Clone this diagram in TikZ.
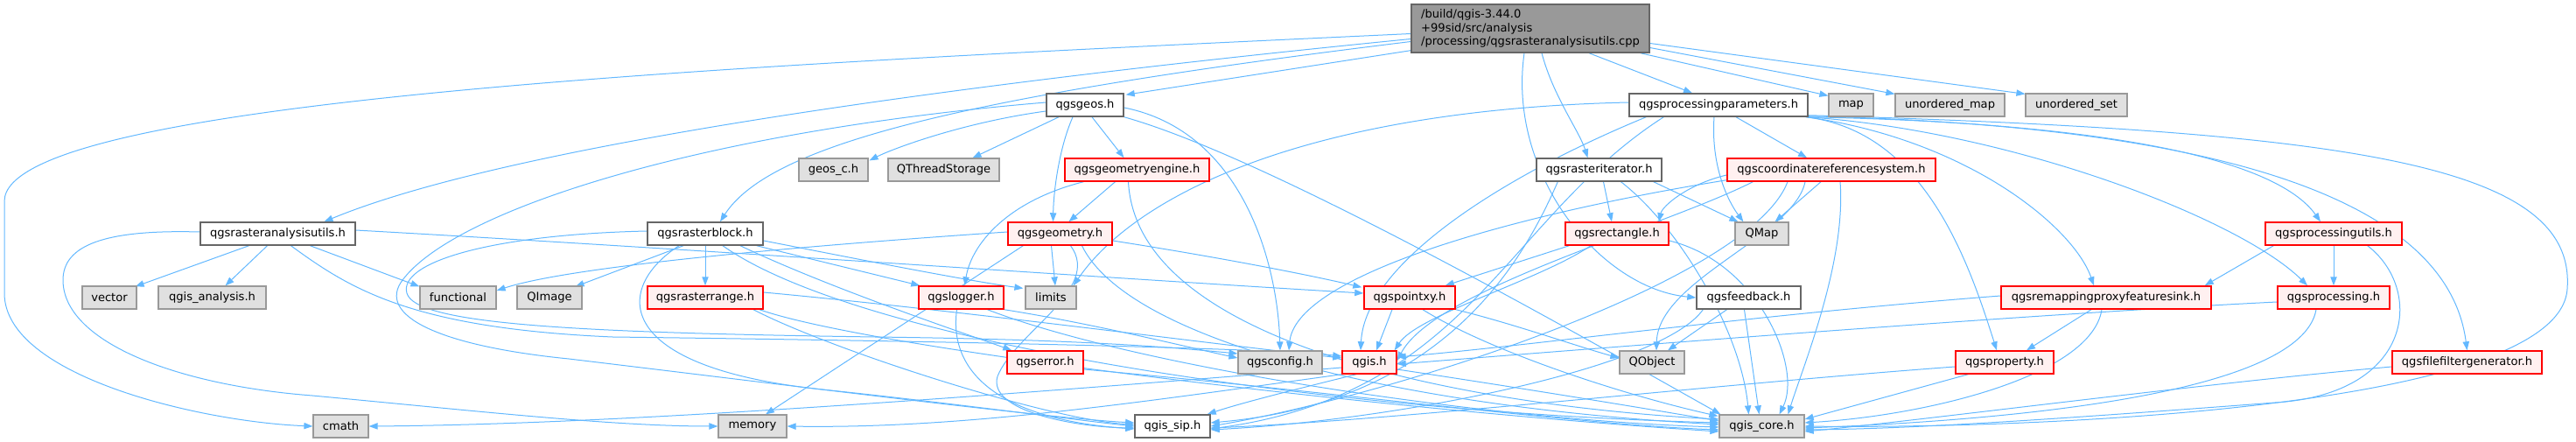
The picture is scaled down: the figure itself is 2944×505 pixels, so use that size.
\documentclass[tikz,border=0pt]{standalone}
\usepackage{fontspec}
\setmainfont{DejaVu Sans}
\usetikzlibrary{arrows.meta,calc,backgrounds}
\definecolor{edgec}{HTML}{63B8FF}
\definecolor{graybg}{HTML}{E0E0E0}
\definecolor{grayfr}{HTML}{999999}
\definecolor{darkfr}{HTML}{666666}
\definecolor{redbg}{HTML}{FFF0F0}
\definecolor{redfr}{HTML}{FF0000}
\definecolor{mainbg}{HTML}{999999}
\tikzset{
  basebox/.style={rectangle, minimum height=19.5pt, inner sep=0pt, font=\fontsize{9.8}{11.6}\selectfont},
  bw/.style={minimum width=#1*0.75pt},
  wbox/.style={basebox, draw=darkfr, fill=white, line width=1.1pt},
  gbox/.style={basebox, draw=grayfr, fill=graybg, line width=0.9pt},
  rbox/.style={basebox, draw=redfr, fill=redbg, line width=1.1pt},
  mbox/.style={basebox, draw=darkfr, fill=mainbg, line width=1pt, align=left},
  lnk/.style={draw=edgec, line width=0.75pt, -{Triangle[length=7.5pt,width=5.5pt]}}
}
\begin{document}
\begin{tikzpicture}[x=0.75pt,y=-0.75pt]
\useasboundingbox (0,0) rectangle (2944,505);
% nodes
\node[mbox, bw=272, minimum height=41.25pt] (main) at (1749,32.5) {/build/qgis-3.44.0\\+99sid/src/analysis\\/processing/qgsrasteranalysisutils.cpp};
\node[wbox, bw=88] (geos) at (1240,120) {qgsgeos.h};
\node[wbox, bw=204] (ppar) at (1964,120) {qgsprocessingparameters.h};
\node[gbox, bw=51] (map) at (2115.5,120) {map};
\node[gbox, bw=125] (umap) at (2228.5,120) {unordered\_map};
\node[gbox, bw=116] (uset) at (2373,120) {unordered\_set};
\node[gbox, bw=79] (geosc) at (952.5,194) {geos\_c.h};
\node[gbox, bw=127] (qts) at (1078.5,194) {QThreadStorage};
\node[rbox, bw=165] (geng) at (1299.5,194) {qgsgeometryengine.h};
\node[wbox, bw=143] (rit) at (1827.5,194) {qgsrasteriterator.h};
\node[rbox, bw=238] (crs) at (2093,194) {qgscoordinatereferencesystem.h};
\node[wbox, bw=177] (ras) at (317.5,267) {qgsrasteranalysisutils.h};
\node[wbox, bw=132] (blk) at (806,267) {qgsrasterblock.h};
\node[rbox, bw=119] (geom) at (1211.5,267) {qgsgeometry.h};
\node[rbox, bw=118] (rect) at (1848,267) {qgsrectangle.h};
\node[gbox, bw=61] (qmap) at (2013.5,267) {QMap};
\node[rbox, bw=156] (putil) at (2667,267) {qgsprocessingutils.h};
\node[gbox, bw=62] (vec) at (125,340) {vector};
\node[gbox, bw=123] (qan) at (242.5,340) {qgis\_analysis.h};
\node[gbox, bw=87] (func) at (523.5,340) {functional};
\node[gbox, bw=74] (qimg) at (628,340) {QImage};
\node[rbox, bw=132] (rrange) at (806,340) {qgsrasterrange.h};
\node[rbox, bw=97] (log) at (1098.5,340) {qgslogger.h};
\node[gbox, bw=58] (lim) at (1201,340) {limits};
\node[rbox, bw=104] (pxy) at (1611,340) {qgspointxy.h};
\node[wbox, bw=119] (fb) at (1998.5,340) {qgsfeedback.h};
\node[rbox, bw=240] (remap) at (2407,340) {qgsremappingproxyfeaturesink.h};
\node[rbox, bw=128] (proc) at (2667,340) {qgsprocessing.h};
\node[rbox, bw=87] (err) at (1194.5,414) {qgserror.h};
\node[gbox, bw=96] (cfg) at (1463,414) {qgsconfig.h};
\node[rbox, bw=62] (qgis) at (1565,414) {qgis.h};
\node[gbox, bw=74] (qobj) at (1888,414) {QObject};
\node[rbox, bw=112] (prop) at (2291,414) {qgsproperty.h};
\node[rbox, bw=171] (ffg) at (2819.5,414) {qgsfilefiltergenerator.h};
\node[gbox, bw=63] (cmath) at (389.5,487) {cmath};
\node[gbox, bw=78] (mem) at (860,487) {memory};
\node[wbox, bw=86] (sip) at (1340,487) {qgis\_sip.h};
\node[gbox, bw=97] (core) at (2013.5,487) {qgis\_core.h};
\begin{scope}[on background layer]
% main
\draw[lnk] ($(main.west)+(0,6)$) .. controls (900,72) and (5,110) .. (5,230) -- (5,335) .. controls (5,430) and (230,482) .. (cmath.west);
\draw[lnk] ($(main.west)+(0,12)$) .. controls (1000,105) and (560,175) .. ($(ras.north)+(53,0)$);
\draw[lnk] ($(main.west)+(0,15)$) .. controls (1100,110) and (880,165) .. ($(blk.north)+(17,0)$);
\draw[lnk] ($(main.south west)+(0,-3)$) -- ($(geos.north east)+(2,2)$);
\draw[lnk] ($(main.south)+(67,0)$) -- ($(ppar.north)+(-30,0)$);
\draw[lnk] ($(main.south)+(13,0)$) .. controls (1775,110) and (1805,150) .. ($(rit.north)+(-13,0)$);
\draw[lnk] ($(main.south)+(-7,0)$) .. controls (1722,200) and (1830,330) .. (fb.west);
\draw[lnk] ($(main.south east)+(-11,0)$) -- ($(map.north west)+(0,3)$);
\draw[lnk] ($(main.east)+(0,22)$) -- ($(umap.north west)+(0,1)$);
\draw[lnk] ($(main.east)+(0,17)$) -- ($(uset.north west)+(0,1)$);
% ras
\draw[lnk] ($(ras.south)+(-33,0)$) -- ($(vec.north east)+(-2,1)$);
\draw[lnk] ($(ras.south)+(-12,0)$) -- ($(qan.north)+(15,0)$);
\draw[lnk] ($(ras.south)+(37,0)$) -- ($(func.north west)+(0,1)$);
\draw[lnk] ($(ras.west)+(0,-2)$) .. controls (120,262) and (72,280) .. (72,320) .. controls (72,390) and (200,440) .. (357,452) .. controls (550,470) and (700,487) .. (mem.west);
\draw[lnk] ($(ras.south)+(15,0)$) .. controls (400,330) and (470,375) .. (700,385) .. controls (1100,390) and (1450,398) .. ($(qgis.west)+(0,-7)$);
\draw[lnk] ($(ras.east)+(0,-4)$) .. controls (800,285) and (1300,320) .. ($(pxy.west)+(0,-5)$);
% blk
\draw[lnk] ($(blk.south)+(-25,0)$) -- ($(qimg.north east)+(-8,1)$);
\draw[lnk] (blk) -- (rrange);
\draw[lnk] ($(blk.west)+(0,-3)$) .. controls (560,268) and (455,300) .. (465,335) .. controls (475,370) and (650,380) .. (1000,385) .. controls (1250,388) and (1350,398) .. ($(cfg.west)+(0,-10)$);
\draw[lnk] ($(blk.south)+(-30,0)$) .. controls (700,330) and (700,420) .. (940,445) .. controls (1100,462) and (1230,480) .. (sip.west);
\draw[lnk] ($(blk.east)+(0,8)$) .. controls (950,290) and (1100,320) .. ($(lim.north west)+(-2,3)$);
\draw[lnk] ($(blk.south east)+(-8,0)$) -- ($(log.north west)+(2,0)$);
\draw[lnk] ($(blk.south)+(40,0)$) .. controls (950,330) and (1100,380) .. ($(err.north west)+(6,0)$);
\draw[lnk] ($(blk.south)+(20,0)$) .. controls (980,390) and (1500,470) .. ($(core.west)+(0,-4)$);
% geos
\draw[lnk] ($(geos.west)+(0,7)$) .. controls (1100,140) and (1020,170) .. ($(geosc.north east)+(1,3)$);
\draw[lnk] ($(geos.south)+(-30,0)$) -- ($(qts.north)+(33,0)$);
\draw[lnk] ($(geos.south)+(8,0)$) -- ($(geng.north)+(-15,0)$);
\draw[lnk] ($(geos.south)+(-14,0)$) .. controls (1210,170) and (1204,220) .. ($(geom.north)+(-8,0)$);
\draw[lnk] ($(geos.east)+(0,3)$) .. controls (1420,150) and (1460,300) .. (cfg.north);
\draw[lnk] (geos.south east) .. controls (1450,180) and (1800,380) .. ($(core.north west)+(2,0)$);
\draw[lnk] ($(geos.west)+(0,-3)$) .. controls (800,150) and (520,240) .. (460,320) .. controls (430,360) and (500,395) .. (650,410) .. controls (900,440) and (1200,478) .. ($(sip.west)+(0,-4)$);
% geng
\draw[lnk] ($(geng.south west)+(22,0)$) .. controls (1150,230) and (1110,280) .. ($(log.north)+(4,0)$);
\draw[lnk] ($(geng.south)+(-25,0)$) -- ($(geom.north)+(10,0)$);
\draw[lnk] ($(geng.south)+(-10,0)$) .. controls (1300,400) and (1700,465) .. ($(core.west)+(0,-8)$);
% geom
\draw[lnk] ($(geom.west)+(0,-2)$) .. controls (900,282) and (650,305) .. ($(func.east)+(0,-8)$);
\draw[lnk] ($(geom.south west)+(18,0)$) -- ($(mem.north)+(15,0)$);
\draw[lnk] ($(geom.south)+(-10,0)$) -- ($(lim.north)+(5,0)$);
\draw[lnk] ($(geom.south)+(12,0)$) .. controls (1260,330) and (1160,380) .. (1140,430) .. controls (1128,470) and (1230,488) .. ($(sip.west)+(0,2)$);
\draw[lnk] ($(geom.south)+(25,0)$) .. controls (1290,390) and (1600,465) .. ($(core.west)+(0,-2)$);
\draw[lnk] ($(geom.east)+(0,8)$) .. controls (1400,295) and (1500,315) .. ($(pxy.north west)+(-2,2)$);
% log
\draw[lnk] ($(log.south)+(-5,0)$) .. controls (1083,430) and (1150,480) .. ($(sip.west)+(0,3)$);
\draw[lnk] ($(log.south)+(30,0)$) .. controls (1300,420) and (1700,480) .. ($(core.west)+(0,1)$);
\draw[lnk] (log.south east) .. controls (1250,370) and (1350,395) .. ($(cfg.west)+(0,-5)$);
% err
\draw[lnk] ($(err.east)+(0,8)$) .. controls (1500,445) and (1800,485) .. ($(core.west)+(0,4)$);
% rrange
\draw[lnk] ($(rrange.east)+(0,-6)$) .. controls (1100,355) and (1400,395) .. ($(qgis.west)+(0,-5)$);
\draw[lnk] ($(rrange.south)+(55,0)$) .. controls (950,400) and (1200,480) .. ($(sip.west)+(0,-2)$);
\draw[lnk] ($(rrange.south)+(62,0)$) .. controls (1000,400) and (1600,470) .. ($(core.west)+(0,6)$);
% qgis
\draw[lnk] ($(qgis.west)+(0,6)$) .. controls (1100,455) and (700,485) .. (cmath.east);
\draw[lnk] (qgis.south west) .. controls (1300,460) and (1100,490) .. (mem.east);
\draw[lnk] ($(qgis.south)+(-15,0)$) .. controls (1480,445) and (1420,460) .. ($(sip.north east)+(-4,0)$);
\draw[lnk] ($(qgis.east)+(0,8)$) .. controls (1750,445) and (1900,470) .. ($(core.west)+(0,-6)$);
% pxy
\draw[lnk] ($(pxy.south)+(-20,0)$) -- ($(qgis.north)+(8,0)$);
\draw[lnk] ($(pxy.south)+(15,0)$) .. controls (1700,400) and (1850,450) .. ($(core.north west)+(-1,2)$);
\draw[lnk] (pxy.south east) .. controls (1730,370) and (1800,395) .. ($(qobj.west)+(0,-5)$);
% rect
\draw[lnk] ($(rect.south west)+(5,0)$) -- ($(pxy.north east)+(-12,0)$);
\draw[lnk] ($(rect.south)+(-30,0)$) .. controls (1760,320) and (1620,360) .. ($(qgis.north east)+(-3,0)$);
\draw[lnk] ($(rect.east)+(0,8)$) .. controls (2010,300) and (2060,420) .. ($(core.north)+(20,0)$);
% rit
\draw[lnk] ($(rit.south west)+(25,0)$) .. controls (1740,300) and (1650,460) .. ($(sip.east)+(0,-4)$);
\draw[lnk] ($(rit.south)+(5,0)$) -- ($(rect.north)+(-6,0)$);
\draw[lnk] ($(rit.south)+(25,0)$) .. controls (1920,260) and (1990,380) .. ($(core.north)+(-15,0)$);
\draw[lnk] ($(rit.south east)+(-10,0)$) -- ($(qmap.north west)+(4,0)$);
% crs
\draw[lnk] ($(crs.south)+(-12,0)$) -- ($(qmap.north)+(15,0)$);
\draw[lnk] ($(crs.west)+(0,6)$) .. controls (1930,210) and (1900,235) .. ($(rect.north east)+(-12,0)$);
\draw[lnk] ($(crs.south west)+(0,-2)$) .. controls (1700,250) and (1480,320) .. ($(cfg.north)+(10,0)$);
\draw[lnk] ($(crs.south west)+(30,0)$) .. controls (1900,260) and (1640,330) .. ($(qgis.east)+(0,-2)$);
\draw[lnk] ($(crs.south)+(-30,0)$) .. controls (2050,270) and (1895,320) .. ($(qobj.north)+(5,0)$);
\draw[lnk] ($(crs.south)+(-50,0)$) .. controls (2000,320) and (1600,450) .. (sip.east);
\draw[lnk] ($(crs.south)+(10,0)$) .. controls (2110,300) and (2060,420) .. ($(core.north)+(30,0)$);
% fb
\draw[lnk] ($(fb.south)+(-25,0)$) -- ($(qobj.north)+(18,0)$);
\draw[lnk] ($(fb.south)+(-5,0)$) -- ($(core.north)+(-3,0)$);
\draw[lnk] ($(fb.south west)+(8,0)$) .. controls (1900,420) and (1600,480) .. ($(sip.east)+(0,4)$);
% ppar
\draw[lnk] ($(ppar.west)+(0,-3)$) .. controls (1500,125) and (1300,220) .. ($(lim.north east)+(-4,0)$);
\draw[lnk] ($(ppar.south west)+(20,0)$) .. controls (1720,200) and (1560,300) .. ($(qgis.north)+(-10,0)$);
\draw[lnk] ($(ppar.south west)+(40,0)$) .. controls (1720,250) and (1680,450) .. ($(sip.east)+(0,3)$);
\draw[lnk] ($(ppar.south)+(-5,0)$) .. controls (1955,190) and (1975,230) .. ($(qmap.north west)+(10,0)$);
\draw[lnk] ($(ppar.south)+(20,0)$) -- ($(crs.north)+(-28,0)$);
\draw[lnk] ($(ppar.south east)+(-3,0)$) .. controls (2200,150) and (2250,300) .. ($(prop.north)+(-9,0)$);
\draw[lnk] ($(ppar.south east)+(-2,0)$) .. controls (2250,160) and (2370,260) .. ($(remap.north)+(-14,0)$);
\draw[lnk] ($(ppar.south east)+(-1,0)$) .. controls (2300,150) and (2560,250) .. ($(proc.north)+(-30,0)$);
\draw[lnk] (ppar.south east) .. controls (2400,140) and (2600,180) .. ($(putil.north)+(-15,0)$);
\draw[lnk] ($(ppar.south east)+(0,-1)$) .. controls (2600,145) and (2800,250) .. (ffg.north);
\draw[lnk] ($(ppar.south east)+(0,-2)$) .. controls (2700,150) and (2944,190) .. (2934,330) .. controls (2925,470) and (2300,490) .. (core.east);
% remap
\draw[lnk] ($(remap.west)+(0,-2)$) .. controls (2000,360) and (1750,395) .. ($(qgis.east)+(0,-6)$);
\draw[lnk] ($(remap.south)+(-17,0)$) -- ($(prop.north)+(25,0)$);
\draw[lnk] ($(remap.south)+(-5,0)$) .. controls (2390,430) and (2200,475) .. ($(core.east)+(0,-4)$);
% proc
\draw[lnk] ($(proc.west)+(0,5)$) .. controls (2300,360) and (1800,400) .. ($(qgis.east)+(0,2)$);
\draw[lnk] ($(proc.south)+(-20,0)$) .. controls (2630,450) and (2300,480) .. ($(core.east)+(0,2)$);
% putil
\draw[lnk] ($(putil.south west)+(10,0)$) -- ($(remap.north east)+(-8,0)$);
\draw[lnk] (putil) -- (proc);
\draw[lnk] ($(putil.south east)+(-40,0)$) .. controls (2770,330) and (2760,450) .. (2600,460) .. controls (2400,475) and (2200,490) .. ($(core.east)+(0,4)$);
% prop
\draw[lnk] ($(prop.west)+(0,5)$) .. controls (1950,440) and (1600,480) .. ($(sip.east)+(0,2)$);
\draw[lnk] ($(prop.south west)+(15,0)$) -- ($(core.east)+(0,-8)$);
% ffg
\draw[lnk] ($(ffg.west)+(0,5)$) .. controls (2500,440) and (2200,480) .. ($(core.east)+(0,6)$);
\end{scope}
\end{tikzpicture}
\end{document}
